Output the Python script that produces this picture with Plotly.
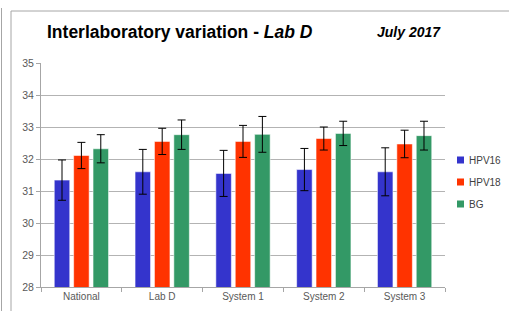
import plotly.graph_objects as go

categories = ["National", "Lab D", "System 1", "System 2", "System 3"]
series_names = ["HPV16", "HPV18", "BG"]
hpv16 = [31.34, 31.60, 31.55, 31.67, 31.60]
hpv16_err = [0.63, 0.70, 0.72, 0.66, 0.75]
hpv18 = [32.11, 32.55, 32.55, 32.64, 32.47]
hpv18_err = [0.41, 0.41, 0.50, 0.36, 0.43]
bg = [32.32, 32.76, 32.77, 32.80, 32.73]
bg_err = [0.44, 0.46, 0.56, 0.38, 0.45]
y_ticks = [28, 29, 30, 31, 32, 33, 34, 35]

colors = ["#3434CC", "#FF3300", "#339966"]
values = [hpv16, hpv18, bg]
errors = [hpv16_err, hpv18_err, bg_err]

fig = go.Figure()
for name, vals, errs, col in zip(series_names, values, errors, colors):
    fig.add_trace(go.Bar(
        x=categories, y=vals, name=name, showlegend=False,
        marker=dict(color=col, line=dict(color="rgba(255,255,255,0.55)", width=1)),
        error_y=dict(type="data", array=errs, visible=True, color="#000000",
                     thickness=1, width=4),
    ))
for name, col in zip(series_names, colors):
    fig.add_trace(go.Scatter(
        x=[None], y=[None], mode="lines", name=name, legendgroup=name,
        line=dict(color=col, width=7, dash="0px,23px,7px"),
    ))

tick_font = dict(family="Liberation Sans, Arial, sans-serif", size=10, color="#595959")
ytick_font = dict(family="Liberation Sans, Arial, sans-serif", size=10.5, color="#595959")
fig.update_layout(
    width=509, height=311,
    margin=dict(l=41, r=64, t=63, b=24, autoexpand=False),
    paper_bgcolor="white", plot_bgcolor="white",
    barmode="group", bargap=0.28, bargroupgap=0.2,
    showlegend=True,
    legend=dict(x=(429 - 41) / 404, y=1 - (182 - 63) / 224, xanchor="left", yanchor="middle",
                font=dict(family="Liberation Sans, Arial, sans-serif", size=10, color="#404040"),
                itemwidth=30, tracegroupgap=3, traceorder="grouped", bgcolor="rgba(0,0,0,0)"),
    xaxis=dict(showline=True, linecolor="#A6A6A6", linewidth=1,
               ticks="outside", tickson="boundaries", ticklen=4, tickcolor="#A6A6A6",
               tickfont=tick_font, showgrid=False),
    yaxis=dict(range=[28, 35], tickvals=y_ticks, showgrid=True, gridcolor="#B3B3B3",
               gridwidth=1, showline=True, linecolor="#A6A6A6", linewidth=1,
               ticks="outside", ticklen=4, tickcolor="#A6A6A6",
               tickfont=ytick_font, zeroline=False),
    annotations=[
        dict(text="<b>Interlaboratory variation - <i>Lab D</i></b>",
             xref="paper", yref="paper", x=(45 - 41) / 404, y=1 + (63 - 32) / 224,
             xanchor="left", yanchor="middle", showarrow=False,
             font=dict(family="Liberation Sans, Arial, sans-serif", size=17.5, color="#000000")),
        dict(text="<b><i>July 2017</i></b>",
             xref="paper", yref="paper", x=(443 - 41) / 404, y=1 + (63 - 32) / 224,
             xanchor="right", yanchor="middle", showarrow=False,
             font=dict(family="Liberation Sans, Arial, sans-serif", size=14, color="#000000")),
    ],
    shapes=[
        dict(type="rect", xref="paper", yref="paper",
             x0=(11 - 41) / 404, x1=(520 - 41) / 404,
             y0=1 - (330 - 63) / 224, y1=1 + (63 - 11) / 224,
             line=dict(color="#A6A6A6", width=1), fillcolor="rgba(0,0,0,0)", layer="below"),
        dict(type="line", xref="paper", yref="paper",
             x0=(1.5 - 41) / 404, x1=(1.5 - 41) / 404,
             y0=1 - (330 - 63) / 224, y1=1 + (63 - 8) / 224,
             line=dict(color="#A6A6A6", width=1)),
    ],
)

fig.write_html("out.html", config={"displayModeBar": False},
               post_script="document.body.style.margin='0';")
